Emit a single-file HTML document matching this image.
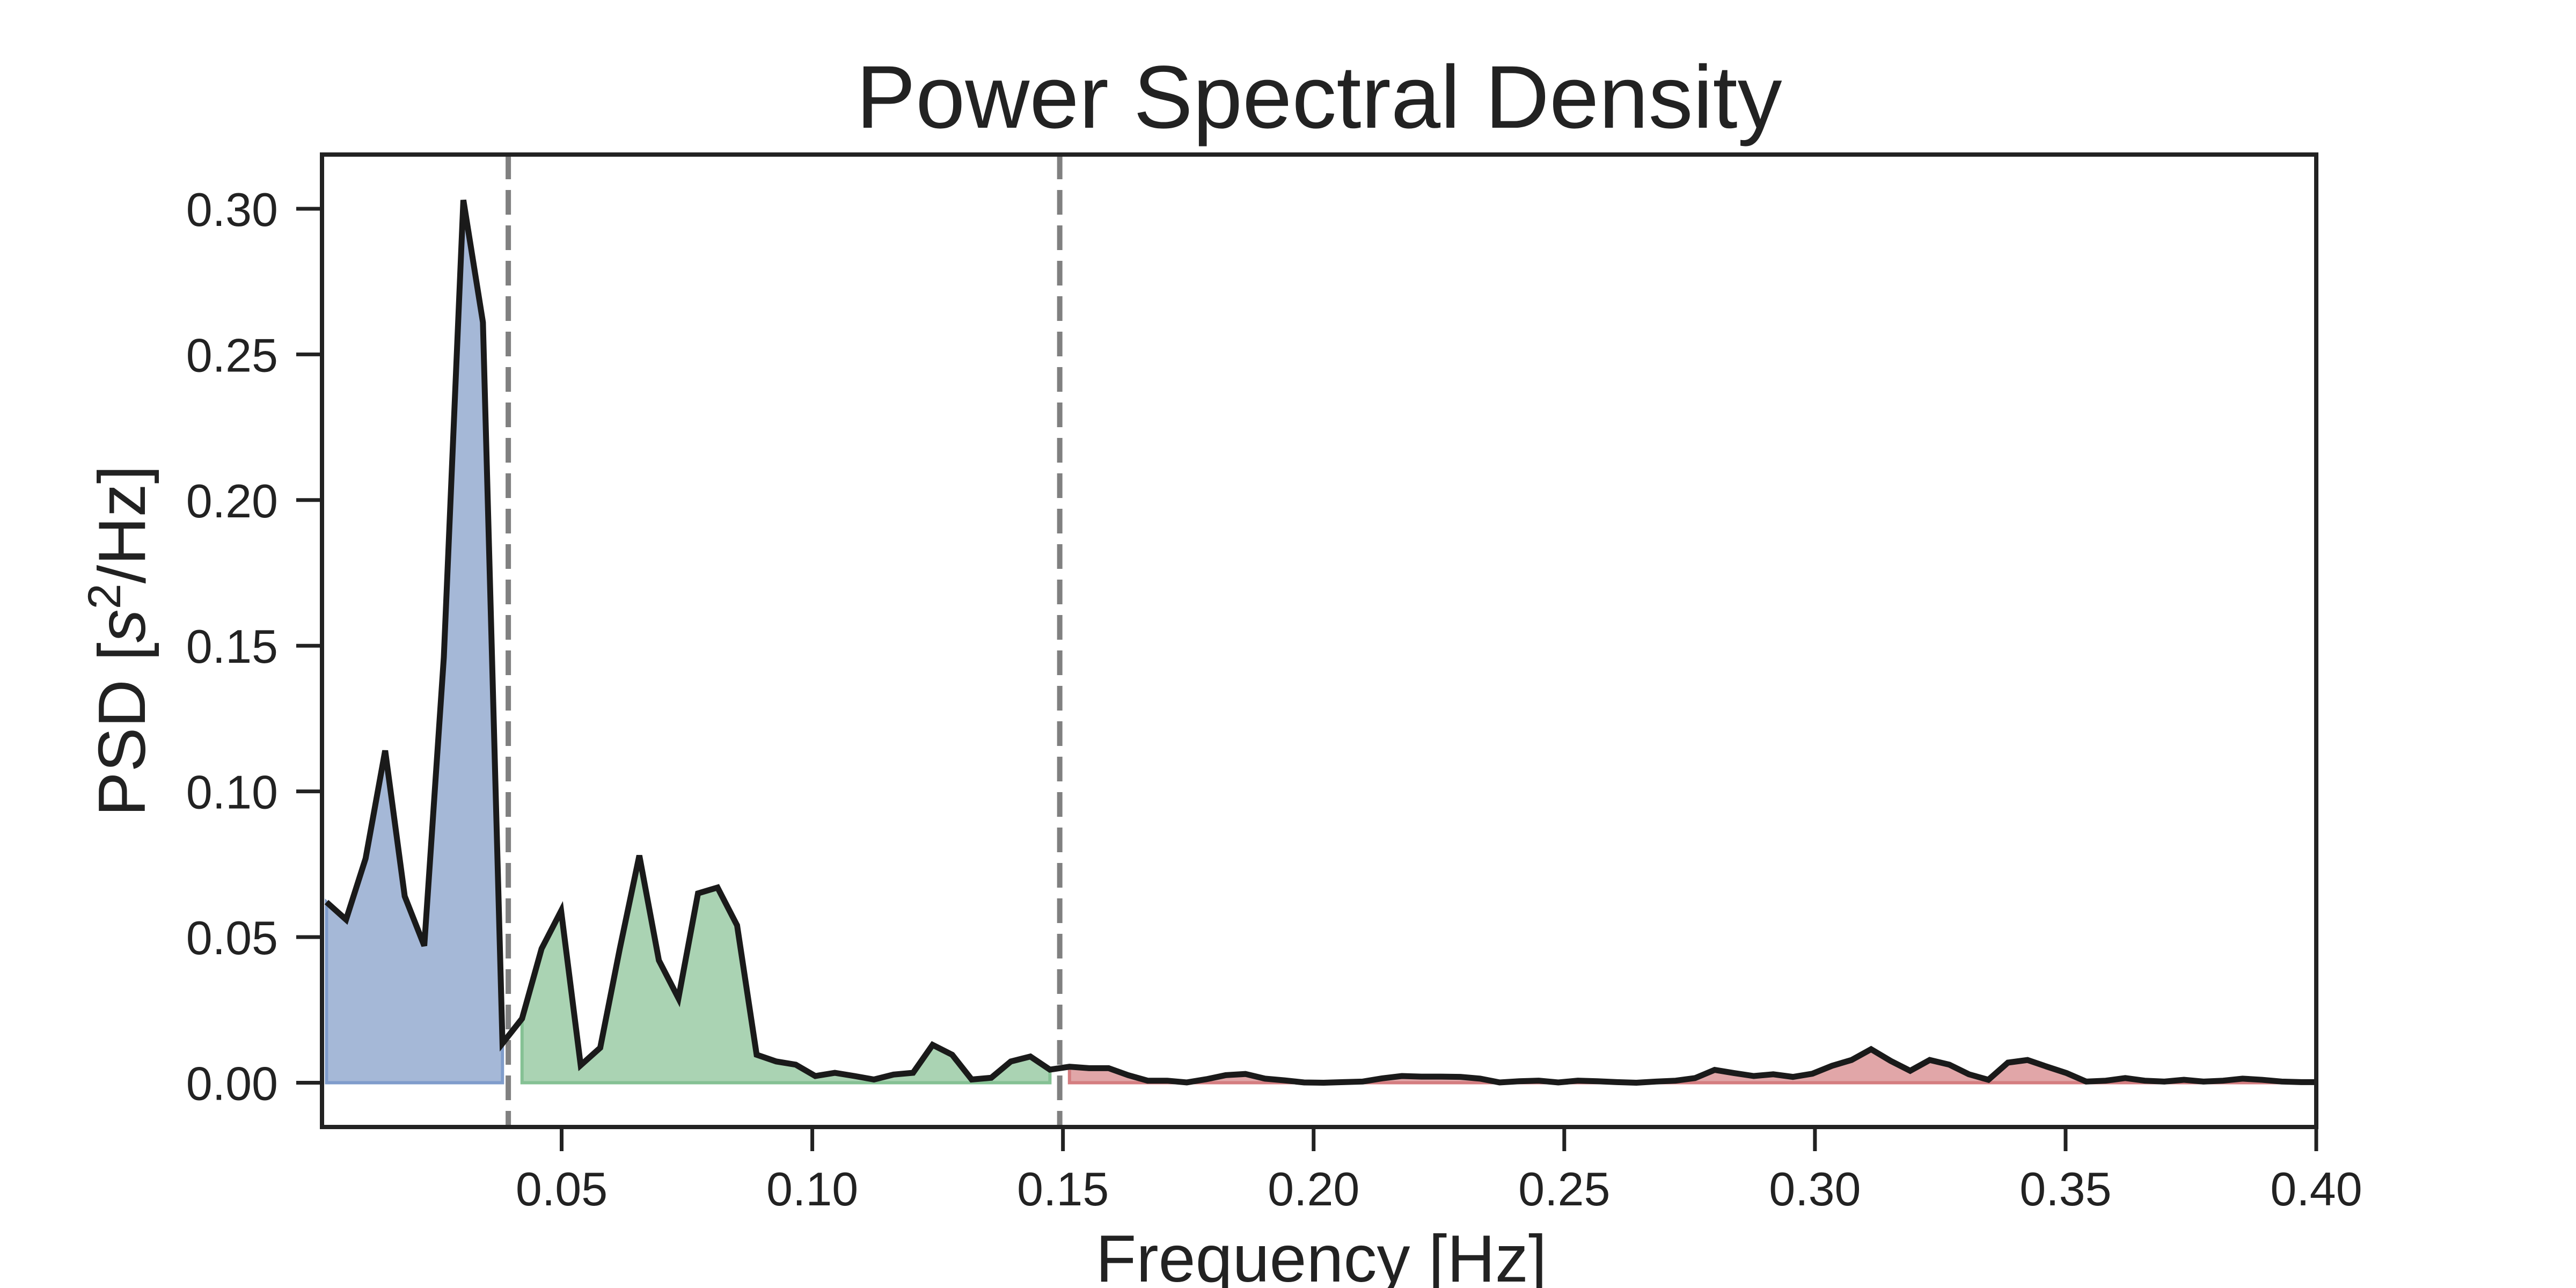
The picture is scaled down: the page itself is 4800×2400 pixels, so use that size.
<!DOCTYPE html>
<html><head><meta charset="utf-8"><style>
html,body{margin:0;padding:0;background:#fff;}
svg{display:block;font-family:"Liberation Sans",Arial,sans-serif;}
</style></head><body>
<svg id="chart" width="4800" height="2400" viewBox="0 0 4800 2400" xmlns="http://www.w3.org/2000/svg">
<rect width="4800" height="2400" fill="#fff"/>
<text x="2458" y="238" font-size="166" text-anchor="middle" fill="#222">Power Spectral Density</text>
<g id="plot"></g>
<text x="2462" y="2388" font-size="124" text-anchor="middle" fill="#222">Frequency [Hz]</text>
<text transform="translate(270,1194) rotate(-90)" font-size="124" text-anchor="middle" fill="#222">PSD [<tspan font-style="italic">s</tspan><tspan font-size="86" dy="-46">2</tspan><tspan dy="46">/Hz]</tspan></text>
</svg>
<script>
const freqs = [0.0031,0.0070,0.0109,0.0148,0.0187,0.0226,0.0265,0.0304,0.0343,0.0382,
0.0421,0.0460,0.0499,0.0538,0.0577,0.0616,0.0655,0.0694,0.0733,0.0772,
0.0811,0.0850,0.0889,0.0928,0.0967,0.1006,0.1045,0.1084,0.1123,0.1162,
0.1201,0.1240,0.1279,0.1318,0.1357,0.1396,0.1435,0.1474,0.1513,0.1552,
0.1591,0.1630,0.1669,0.1708,0.1747,0.1786,0.1825,0.1864,0.1903,0.1942,
0.1981,0.2020,0.2059,0.2098,0.2137,0.2176,0.2215,0.2254,0.2293,0.2332,
0.2371,0.2410,0.2449,0.2488,0.2527,0.2566,0.2605,0.2644,0.2683,0.2722,
0.2761,0.2800,0.2839,0.2878,0.2917,0.2956,0.2995,0.3034,0.3073,0.3112,
0.3151,0.3190,0.3229,0.3268,0.3307,0.3346,0.3385,0.3424,0.3463,0.3502,
0.3541,0.3580,0.3619,0.3658,0.3697,0.3736,0.3775,0.3814,0.3853,0.3892,
0.3931,0.3970,0.4000];
const psd = [0.062,0.056,0.077,0.114,0.064,0.047,0.146,0.303,0.261,0.0135,
0.022,0.046,0.059,0.006,0.012,0.046,0.078,0.042,0.029,0.065,
0.067,0.054,0.0096,0.0073,0.0062,0.0023,0.0034,0.0023,0.0011,0.0028,
0.0034,0.013,0.0096,0.0011,0.0017,0.0073,0.009,0.0045,
0.0055,0.005,0.005,0.0026,0.0007,0.0007,0.0001,0.0012,0.0026,0.003,
0.0014,0.0008,0.0001,0,0.0002,0.0004,0.0015,0.0023,0.0021,0.0021,
0.002,0.0014,0.0001,0.0005,0.0007,0.0001,0.0007,0.0005,0.0002,0,
0.0004,0.0007,0.0016,0.0044,0.0033,0.0023,0.0029,0.002,0.0031,0.0058,
0.0078,0.0115,0.0075,0.0041,0.0078,0.0062,0.0029,0.001,0.0069,0.0078,
0.0055,0.0033,0.0004,0.0007,0.0016,0.0007,0.0004,0.001,0.0004,0.0007,
0.0014,0.001,0.0004,0.0002,0.0002];
const bandEdges = [0.04, 0.15];
const xTicks = [0.05,0.10,0.15,0.20,0.25,0.30,0.35,0.40];
const xTickLabels = ["0.05","0.10","0.15","0.20","0.25","0.30","0.35","0.40"];
const yTicks = [0,0.05,0.10,0.15,0.20,0.25,0.30];
const yTickLabels = ["0.00","0.05","0.10","0.15","0.20","0.25","0.30"];

const L=600,R=4316,T=288,B=2100;
const XMIN=0.0022,XMAX=0.4,YMIN=-0.0152,YMAX=0.3186;
const sx=f=>L+(f-XMIN)/(XMAX-XMIN)*(R-L);
const sy=v=>B-(v-YMIN)/(YMAX-YMIN)*(B-T);
const NS="http://www.w3.org/2000/svg";
const g=document.getElementById('plot');
function mk(tag,attrs,parent){const e=document.createElementNS(NS,tag);for(const k in attrs)e.setAttribute(k,attrs[k]);(parent||g).appendChild(e);return e;}

const bands=[
 {name:'vlf-band-fill',test:f=>f<bandEdges[0],fill:'#a5b8d7',stroke:'#7f9ccb'},
 {name:'lf-band-fill',test:f=>f>=bandEdges[0]&&f<bandEdges[1],fill:'#aad3b3',stroke:'#85c194'},
 {name:'hf-band-fill',test:f=>f>=bandEdges[1],fill:'#e1a6a8',stroke:'#d47d80'}
];
bands.forEach(b=>{
  const idx=[];freqs.forEach((f,i)=>{if(b.test(f)&&i<psd.length)idx.push(i);});
  if(!idx.length)return;
  let d='M'+sx(freqs[idx[0]])+','+sy(0);
  idx.forEach(i=>{d+=' L'+sx(freqs[i])+','+sy(psd[i]);});
  d+=' L'+sx(freqs[idx[idx.length-1]])+','+sy(0)+' Z';
  const p=mk('path',{d:d,fill:b.fill,stroke:b.stroke,'stroke-width':6});
  
  
});
bandEdges.forEach((e,i)=>{
  const l=mk('line',{x1:sx(e)-6,x2:sx(e)-6,y1:T,y2:B,stroke:'#808080','stroke-width':10,'stroke-dasharray':'46 20'});
  
  
});
let d='';
psd.forEach((v,i)=>{d+=(i?' L':'M')+sx(freqs[i])+','+sy(v);});
const line=mk('path',{d:d,fill:'none',stroke:'#1a1a1a','stroke-width':11,'stroke-linejoin':'miter'});



xTicks.forEach((t,i)=>{
  const x=sx(t);
  const tk=mk('line',{x1:x,x2:x,y1:B,y2:B+45,stroke:'#222','stroke-width':7});
  
  
  const tx=mk('text',{x:x,y:B+146,'font-size':88,'text-anchor':'middle',fill:'#222'});
  tx.textContent=xTickLabels[i];
  
  
});
yTicks.forEach((t,i)=>{
  const y=sy(t);
  const tk=mk('line',{x1:L-48,x2:L,y1:y,y2:y,stroke:'#222','stroke-width':7});
  
  
  const tx=mk('text',{x:L-82,y:y+32,'font-size':88,'text-anchor':'end',fill:'#222'});
  tx.textContent=yTickLabels[i];
  
  
});
const frame=mk('rect',{x:L,y:T,width:R-L,height:B-T,fill:'none',stroke:'#222','stroke-width':8});


</script>
</body></html>
